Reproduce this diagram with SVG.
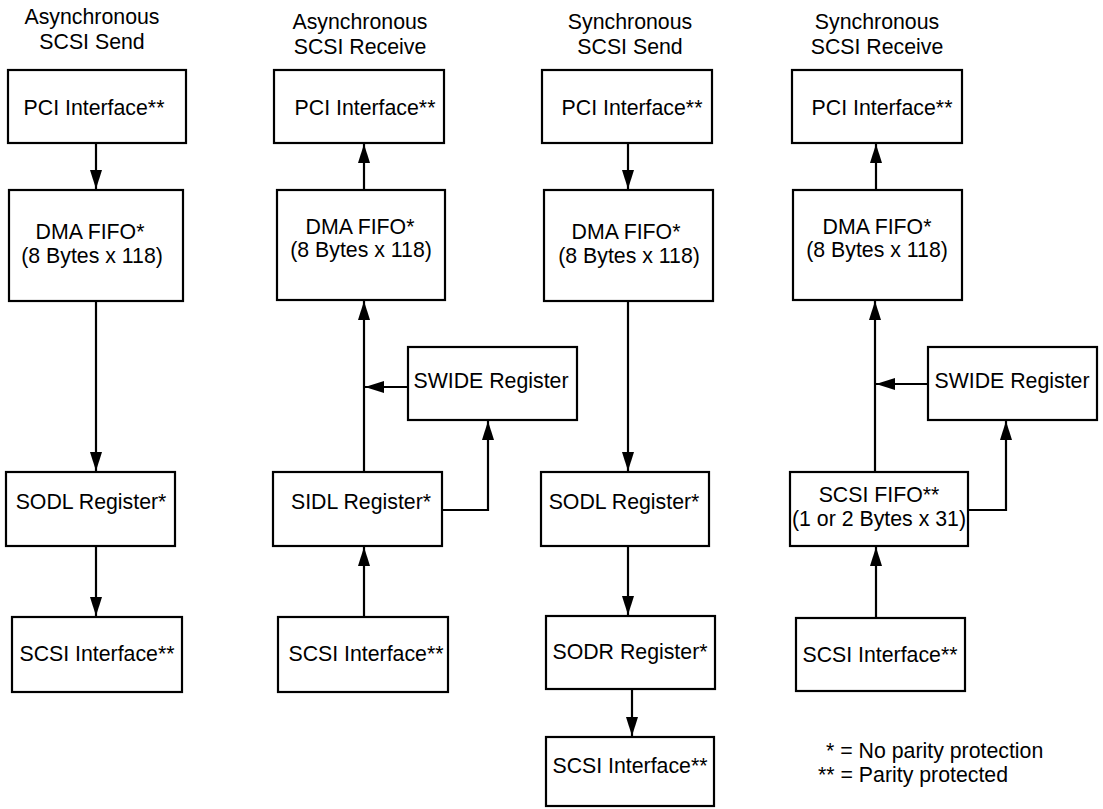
<svg xmlns="http://www.w3.org/2000/svg" width="1103" height="809" viewBox="0 0 1103 809">
<defs>
<style>
.box{fill:#fff;stroke:#000;stroke-width:2.2}
.t{font-family:"Liberation Sans",Arial,sans-serif;font-size:21.3px;fill:#000;text-anchor:middle}
.lg{font-family:"Liberation Sans",Arial,sans-serif;font-size:21.3px;fill:#000}
.c{fill:none;stroke:#000;stroke-width:2.2}
</style>
<marker id="ah" markerUnits="userSpaceOnUse" viewBox="0 0 19 12" refX="19" refY="6" markerWidth="19" markerHeight="12" orient="auto">
<path d="M0,0 L19,6 L0,12 z" fill="#000"/>
</marker>
</defs>
<rect width="1103" height="809" fill="#fff"/>

<g id="titles">
<text class="t" x="92" y="24">Asynchronous</text>
<text class="t" x="92" y="49">SCSI Send</text>
<text class="t" x="360" y="29">Asynchronous</text>
<text class="t" x="360" y="54">SCSI Receive</text>
<text class="t" x="630" y="29">Synchronous</text>
<text class="t" x="630" y="54">SCSI Send</text>
<text class="t" x="877" y="29">Synchronous</text>
<text class="t" x="877" y="54">SCSI Receive</text>
</g>

<g id="connectors">
<path class="c" marker-end="url(#ah)" d="M96,143 V189"/>
<path class="c" marker-end="url(#ah)" d="M96,301 V471"/>
<path class="c" marker-end="url(#ah)" d="M96,546 V616"/>

<path class="c" marker-end="url(#ah)" d="M364,190 V144"/>
<path class="c" marker-end="url(#ah)" d="M364,472 V301"/>
<path class="c" marker-end="url(#ah)" d="M408,387 H365"/>
<path class="c" marker-end="url(#ah)" d="M442,510 H488 V421"/>
<path class="c" marker-end="url(#ah)" d="M364,617 V547"/>

<path class="c" marker-end="url(#ah)" d="M628,143 V189"/>
<path class="c" marker-end="url(#ah)" d="M628,301 V471"/>
<path class="c" marker-end="url(#ah)" d="M628,546 V615"/>
<path class="c" marker-end="url(#ah)" d="M632,689 V736"/>

<path class="c" marker-end="url(#ah)" d="M876,190 V144"/>
<path class="c" marker-end="url(#ah)" d="M875,472 V301"/>
<path class="c" marker-end="url(#ah)" d="M928,384 H876"/>
<path class="c" marker-end="url(#ah)" d="M968,510 H1006 V421"/>
<path class="c" marker-end="url(#ah)" d="M876,618 V547"/>
</g>

<g id="as-pci"><rect class="box" x="8" y="70" width="178" height="73"/><text class="t" x="94" y="115">PCI Interface**</text></g>
<g id="as-dma"><rect class="box" x="9" y="190" width="174" height="111"/><text class="t" x="90" y="239">DMA FIFO*</text><text class="t" x="92" y="263">(8 Bytes x 118)</text></g>
<g id="as-sodl"><rect class="box" x="6" y="472" width="169" height="74"/><text class="t" x="91" y="509">SODL Register*</text></g>
<g id="as-scsi"><rect class="box" x="12" y="617" width="170" height="75"/><text class="t" x="97" y="661">SCSI Interface**</text></g>

<g id="ar-pci"><rect class="box" x="274" y="70" width="170" height="73"/><text class="t" x="365" y="115">PCI Interface**</text></g>
<g id="ar-dma"><rect class="box" x="277" y="190" width="168" height="110"/><text class="t" x="360" y="234">DMA FIFO*</text><text class="t" x="361" y="257">(8 Bytes x 118)</text></g>
<g id="ar-swide"><rect class="box" x="408" y="347" width="169" height="73"/><text class="t" x="491" y="388">SWIDE Register</text></g>
<g id="ar-sidl"><rect class="box" x="273" y="472" width="169" height="74"/><text class="t" x="361" y="509">SIDL Register*</text></g>
<g id="ar-scsi"><rect class="box" x="278" y="617" width="170" height="75"/><text class="t" x="366" y="661">SCSI Interface**</text></g>

<g id="ss-pci"><rect class="box" x="542" y="70" width="170" height="73"/><text class="t" x="632" y="115">PCI Interface**</text></g>
<g id="ss-dma"><rect class="box" x="544" y="190" width="169" height="111"/><text class="t" x="626" y="239">DMA FIFO*</text><text class="t" x="629" y="263">(8 Bytes x 118)</text></g>
<g id="ss-sodl"><rect class="box" x="541" y="472" width="168" height="74"/><text class="t" x="624" y="509">SODL Register*</text></g>
<g id="ss-sodr"><rect class="box" x="546" y="616" width="169" height="73"/><text class="t" x="630" y="659">SODR Register*</text></g>
<g id="ss-scsi"><rect class="box" x="546" y="737" width="168" height="69"/><text class="t" x="630" y="773">SCSI Interface**</text></g>

<g id="sr-pci"><rect class="box" x="792" y="70" width="170" height="73"/><text class="t" x="882" y="115">PCI Interface**</text></g>
<g id="sr-dma"><rect class="box" x="793" y="190" width="169" height="110"/><text class="t" x="877" y="234">DMA FIFO*</text><text class="t" x="877" y="257">(8 Bytes x 118)</text></g>
<g id="sr-swide"><rect class="box" x="928" y="347" width="169" height="73"/><text class="t" x="1012" y="388">SWIDE Register</text></g>
<g id="sr-fifo"><rect class="box" x="790" y="472" width="178" height="74"/><text class="t" x="879" y="502">SCSI FIFO**</text><text class="t" x="879" y="526">(1 or 2 Bytes x 31)</text></g>
<g id="sr-scsi"><rect class="box" x="796" y="618" width="169" height="73"/><text class="t" x="880" y="662">SCSI Interface**</text></g>

<g id="legend">
<text class="lg" x="826" y="758">* = No parity protection</text>
<text class="lg" x="818" y="782">** = Parity protected</text>
</g>
</svg>
